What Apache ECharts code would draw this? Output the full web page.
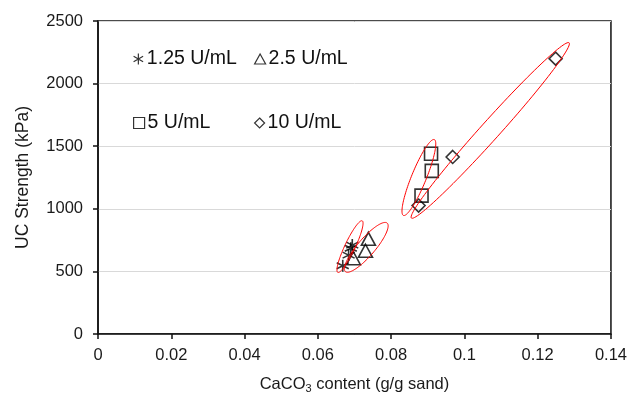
<!DOCTYPE html>
<html>
<head>
<meta charset="utf-8">
<script src="https://cdn.jsdelivr.net/npm/echarts@6/dist/echarts.min.js"></script>
<style>
  html, body { margin: 0; padding: 0; background: #fff; }
  #chart { width: 630px; height: 399px; }
</style>
</head>
<body>
<div id="chart"></div>
<script>
// CaCO3 content (g/g sand) vs. unconfined compressive strength (kPa)
const seriesNames = ['1.25 U/mL', '2.5 U/mL', '5 U/mL', '10 U/mL'];

const caco3_125 = [0.0668, 0.0684, 0.0690, 0.0694];
const ucs_125   = [545, 630, 685, 710];

const caco3_25 = [0.0697, 0.0730, 0.0738];
const ucs_25   = [605, 665, 760];

const caco3_5 = [0.0883, 0.0909, 0.0911];
const ucs_5   = [1105, 1440, 1303];

const caco3_10 = [0.0875, 0.0968, 0.1249];
const ucs_10   = [1026, 1414, 2199];

// Confidence ellipses: [centre x, centre y, major-axis end x, major-axis end y, minor/major ratio]
const ellipse_125 = [0.06878, 698, 0.07211, 904, 0.18];
const ellipse_25  = [0.07322, 692, 0.07892, 886, 0.27];
const ellipse_5   = [0.08758, 1250, 0.0918, 1553, 0.18];
const ellipse_10  = [0.10706, 1626, 0.12858, 2326, 0.08];

const xTicks = [0, 0.02, 0.04, 0.06, 0.08, 0.1, 0.12, 0.14];
const yTicks = [0, 500, 1000, 1500, 2000, 2500];

const zip = (xs, ys) => xs.map((x, i) => [x, ys[i]]);

const asteriskPath = 'path://M0,-10L0,10M-8.66,-5L8.66,5M-8.66,5L8.66,-5';

const hollow = { color: 'rgba(0,0,0,0)', borderColor: '#000', borderWidth: 1.6 };

function renderEllipse(params, api) {
  const c = api.coord([api.value(0), api.value(1)]);
  const e = api.coord([api.value(2), api.value(3)]);
  const r = api.value(4);
  const ux = e[0] - c[0], uy = e[1] - c[1];
  const vx = -uy * r, vy = ux * r;
  const pts = [];
  const n = 120;
  for (let i = 0; i < n; i++) {
    const t = (i / n) * Math.PI * 2;
    const ct = Math.cos(t), st = Math.sin(t);
    pts.push([c[0] + ux * ct + vx * st, c[1] + uy * ct + vy * st]);
  }
  return {
    type: 'polygon',
    shape: { points: pts },
    style: { fill: 'none', stroke: '#ff0000', lineWidth: 1 }
  };
}

const font = 'Liberation Sans, Arial, sans-serif';

function legendAt(name, left, top, w, h) {
  return {
    data: [name],
    left: left, top: top,
    itemWidth: w, itemHeight: h,
    itemGap: 0,
    selectedMode: false,
    textStyle: { fontFamily: font, fontSize: 19.5, color: '#111', padding: [0, 0, 0, -2] },
    itemStyle: { color: 'rgba(0,0,0,0)', borderColor: '#000', borderWidth: 1.2 }
  };
}

function tickText(ticks, v) {
  const t = ticks.find(t => Math.abs(t - v) < 1e-9);
  return String(t === undefined ? v : t);
}

const chart = echarts.init(document.getElementById('chart'), null, { renderer: 'canvas' });
chart.setOption({
  animation: false,
  backgroundColor: '#fff',
  textStyle: { fontFamily: font },
  grid: {
    left: 98, right: 18, top: 21, bottom: 62,
    show: true, borderColor: '#111', borderWidth: 1.5, backgroundColor: 'transparent'
  },
  legend: [
    legendAt(seriesNames[0], 128, 44, 11, 11),
    legendAt(seriesNames[1], 249, 44, 11, 10),
    legendAt(seriesNames[2], 128, 108, 11, 11),
    legendAt(seriesNames[3], 249, 108, 10, 10)
  ],
  xAxis: {
    type: 'value',
    min: xTicks[0], max: xTicks[xTicks.length - 1], interval: 0.02,
    axisLine: { lineStyle: { color: '#111', width: 1.5 } },
    axisTick: { show: true, inside: false, length: 5, lineStyle: { color: '#111', width: 1.5 } },
    axisLabel: {
      fontSize: 16.5, color: '#1a1a1a', margin: 13,
      formatter: v => tickText(xTicks, v)
    },
    splitLine: { show: false },
    name: 'CaCO{sub|3} content (g/g sand)',
    nameLocation: 'middle', nameGap: 41,
    nameTextStyle: {
      fontSize: 16.5, color: '#1a1a1a',
      rich: { sub: { fontSize: 11, color: '#1a1a1a', verticalAlign: 'bottom', padding: [8, 0, 0, 0] } }
    }
  },
  yAxis: {
    type: 'value',
    min: yTicks[0], max: yTicks[yTicks.length - 1], interval: 500,
    axisLine: { show: true, lineStyle: { color: '#111', width: 1.5 } },
    axisTick: { show: true, inside: false, length: 5, lineStyle: { color: '#111', width: 1.5 } },
    axisLabel: { fontSize: 16.5, color: '#1a1a1a', margin: 15, formatter: v => tickText(yTicks, v) },
    splitLine: { show: true, lineStyle: { color: '#d9d9d9', width: 1 } },
    name: 'UC Strength (kPa)',
    nameLocation: 'middle', nameGap: 66,
    nameTextStyle: { fontSize: 17.5, color: '#1a1a1a' }
  },
  series: [
    {
      name: seriesNames[0], type: 'scatter', data: zip(caco3_125, ucs_125),
      symbol: asteriskPath, symbolSize: 12, itemStyle: hollow, z: 3
    },
    {
      name: seriesNames[1], type: 'scatter', data: zip(caco3_25, ucs_25),
      symbol: 'triangle', symbolSize: [14, 13], itemStyle: hollow, z: 3
    },
    {
      name: seriesNames[2], type: 'scatter', data: zip(caco3_5, ucs_5),
      symbol: 'rect', symbolSize: 13, itemStyle: hollow, z: 3
    },
    {
      name: seriesNames[3], type: 'scatter', data: zip(caco3_10, ucs_10),
      symbol: 'diamond', symbolSize: 13, itemStyle: hollow, z: 3
    },
    {
      type: 'custom', coordinateSystem: 'cartesian2d', silent: true, clip: false, z: 4,
      renderItem: renderEllipse,
      encode: { x: [0, 2], y: [1, 3] },
      data: [ellipse_125, ellipse_25, ellipse_5, ellipse_10]
    }
  ]
});
</script>
</body>
</html>
